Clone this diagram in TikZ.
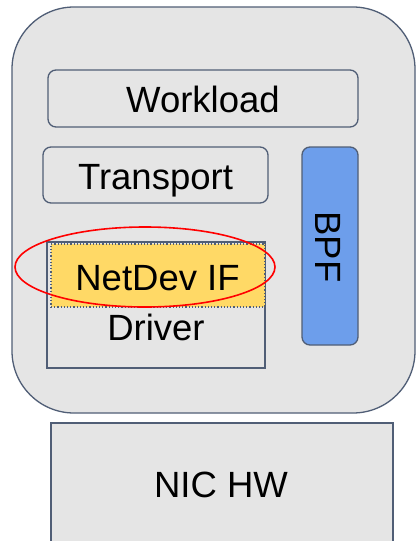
\documentclass[tikz,border=0pt]{standalone}
\usepackage{fontspec}
\setmainfont{Liberation Sans}
\usetikzlibrary{shapes.geometric}
\definecolor{edge}{HTML}{505E76}
\definecolor{panel}{HTML}{E5E5E5}
\definecolor{bpfblue}{HTML}{6D9EEB}
\definecolor{netyellow}{HTML}{FFD966}
\tikzset{
  box/.style={draw=edge, line width=1.3pt, fill=panel, inner sep=0pt},
  label/.style={font=\fontsize{36.5}{42}\selectfont, inner sep=0pt, anchor=base},
}
\begin{document}
\begin{tikzpicture}[x=1pt, y=-1pt]
  \useasboundingbox (0,0) rectangle (417,541);
  \fill[white] (0,0) rectangle (417,541);
  % host
  \node[box, rounded corners=62pt, minimum width=403pt, minimum height=406pt] (host) at (213.5,210) {};
  % layers
  \node[box, rounded corners=8pt, minimum width=310pt, minimum height=57pt] (workload) at (203,98.5) {};
  \node[label] at (203,112) {Workload};
  \node[box, rounded corners=8pt, minimum width=225pt, minimum height=56pt] (transport) at (155.5,175) {};
  \node[label] at (155.5,189) {Transport};
  \node[box, minimum width=218pt, minimum height=126pt] (driver) at (156,305) {};
  \node[fill=netyellow, draw=edge, dotted, line width=1.2pt, minimum width=214pt, minimum height=63pt, inner sep=0pt] (netdev) at (158,275.5) {};
  \node[label] at (157.5,290) {NetDev IF};
  \node[label] at (156,340) {Driver};
  \node[box, fill=bpfblue, rounded corners=8pt, minimum width=56pt, minimum height=198pt] (bpf) at (330,246) {};
  \node[label, anchor=center, rotate=-90] at (328,247) {BPF};
  % highlight
  \node[draw=red, line width=1.6pt, ellipse, minimum width=260pt, minimum height=80pt, inner sep=0pt] (ring) at (145,267) {};
  % hardware
  \node[box, minimum width=342pt, minimum height=125pt] (nic) at (222,485.5) {};
  \node[label] at (221,497) {NIC HW};
\end{tikzpicture}
\end{document}
